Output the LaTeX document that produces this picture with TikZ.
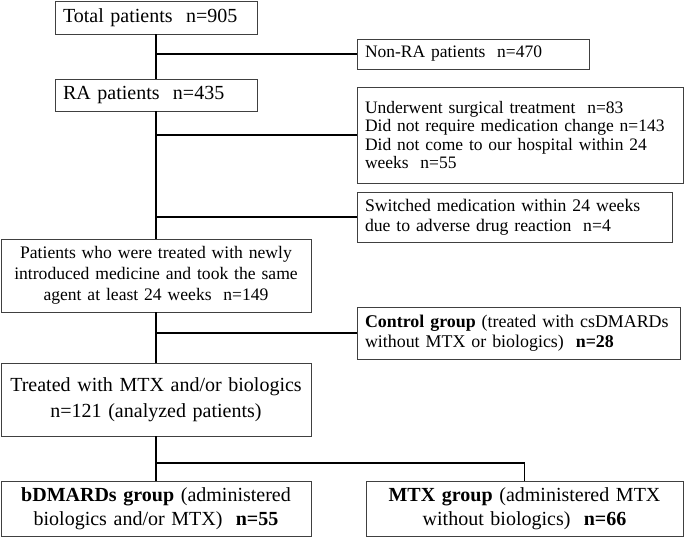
\documentclass[tikz,border=0pt]{standalone}
\usepackage{fontspec}
\setmainfont{Liberation Serif}
\begin{document}
\begin{tikzpicture}[x=1pt,y=-1pt,
  box/.style={draw=black!75, line width=0.9pt, anchor=north west, inner xsep=8pt, inner ysep=0pt, outer sep=0pt},
  big/.style={font=\fontsize{20}{24}\selectfont},
  mid/.style={font=\fontsize{17.5}{18.5}\selectfont},
  midc/.style={font=\fontsize{17.6}{21}\selectfont},
  conn/.style={line width=1.2pt, black}]
\useasboundingbox (0,0) rectangle (685,538);
\node[box, big, minimum height=33pt, text width=186pt, align=left] (total) at (55,1) {Total patients~~n=905};
\node[box, mid, minimum height=30pt, text width=216pt, align=left] (nonra) at (357,39) {Non-RA patients~~n=470};
\node[box, big, minimum height=32pt, text width=186pt, align=left] (ra) at (55,79) {RA patients~~n=435};
\node[box, mid, minimum height=96pt, text width=310pt, align=left] (excl) at (357,87) {Underwent surgical treatment~~n=83\\Did not require medication change n=143\\Did not come to our hospital within 24\\weeks~~n=55};
\node[box, minimum height=50pt, text width=299pt, align=left, font=\fontsize{17.7}{20}\selectfont] (adr) at (357,192) {Switched medication within 24 weeks\\due to adverse drug reaction~~n=4};
\node[box, midc, minimum height=73pt, text width=294pt, align=center] (pat) at (1,239) {Patients who were treated with newly\\introduced medicine and took the same\\agent at least 24 weeks~~n=149};
\node[box, minimum height=52pt, text width=307pt, align=left, font=\fontsize{17.9}{20}\selectfont] (ctrl) at (357,307) {\textbf{Control group} (treated with csDMARDs\\without MTX or biologics)~~\textbf{n=28}};
\node[box, minimum height=73pt, text width=294pt, align=center, font=\fontsize{20}{26}\selectfont] (treat) at (1,363) {Treated with MTX and/or biologics\\n=121 (analyzed patients)};
\node[box, minimum height=55pt, text width=294pt, align=center, font=\fontsize{20}{24}\selectfont] (bd) at (1,481) {\textbf{bDMARDs group} (administered\\biologics and/or MTX)~~\textbf{n=55}};
\node[box, minimum height=55pt, text width=301pt, align=center, font=\fontsize{20}{24}\selectfont] (mtx) at (366,481) {\textbf{MTX group} (administered MTX\\without biologics)~~\textbf{n=66}};
\coordinate (split) at (156,463);
\draw[conn] (total.south) -- (ra.north);
\draw[conn] (ra.south) -- (pat.north);
\draw[conn] (pat.south) -- (treat.north);
\draw[conn] (treat.south) -- (bd.north);
\draw[conn] (split) -| (mtx.north);
\draw[conn] (total.south |- nonra.west) -- (nonra.west);
\draw[conn] (ra.south |- excl.west) -- (excl.west);
\draw[conn] (ra.south |- adr.west) -- (adr.west);
\draw[conn] (pat.south |- ctrl.west) -- (ctrl.west);
\end{tikzpicture}
\end{document}
